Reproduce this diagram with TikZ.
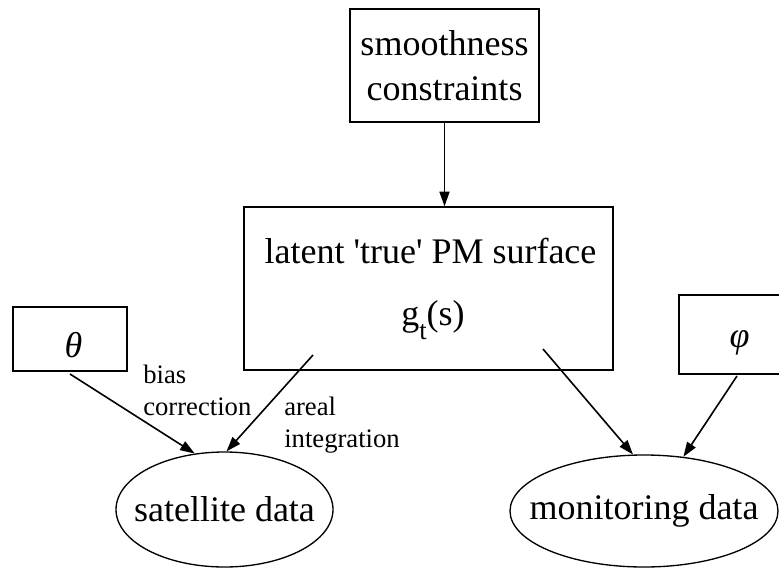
\documentclass[tikz,border=0pt]{standalone}
\usepackage{fontspec}
\setmainfont{Liberation Serif}
\usetikzlibrary{shapes.geometric,arrows.meta}
\begin{document}
\begin{tikzpicture}[x=0.75pt,y=-0.75pt,
  box/.style={draw,line width=1pt,inner sep=0pt,rectangle},
  oval/.style={draw,line width=1pt,ellipse,inner sep=0pt},
  big/.style={font=\fontsize{27}{34}\selectfont},
  small/.style={font=\fontsize{20}{24}\selectfont},
  arr/.style={line width=1.2pt,-{Triangle[length=11pt,width=7.5pt]}}]
\useasboundingbox (0,0) rectangle (779,568);
\clip (0,0) rectangle (779,568);
% boxes
\node[box,big,align=center,minimum width=141.75pt,minimum height=84.75pt] (smooth) at (444.5,65.5) {smoothness\\constraints};
\node[box,minimum width=276.75pt,minimum height=122.25pt] (latent) at (428.5,288.5) {};
\node[big,anchor=base,inner sep=0pt] (lt1) at (430.5,263) {latent \textquotesingle true\textquotesingle{} PM surface};
\node[big,anchor=base,inner sep=0pt] (lt2) at (433,325) {g\raisebox{-11pt}{\fontsize{20}{24}\selectfont t}(s)};
\node[box,minimum width=85.5pt,minimum height=48pt] (theta) at (70,339) {};
\node[big,inner sep=0pt] (thetatxt) at (73.5,345) {\itshape θ};
\node[box,minimum width=83.25pt,minimum height=59.25pt] (phi) at (734.5,334.5) {};
\node[big,inner sep=0pt] (phitxt) at (739.5,342.5) {\itshape φ};
% ellipses
\node[oval,big,minimum width=162.75pt,minimum height=86.25pt] (sat) at (224.5,509.5) {\makebox[0pt]{satellite data}};
\node[oval,big,minimum width=201pt,minimum height=84pt] (mon) at (644,511) {\makebox[0pt]{monitoring data}};
% labels
\node[small,align=left,anchor=north west,inner sep=0pt] (bias) at (143,364.6) {bias\\correction};
\node[small,align=left,anchor=north west,inner sep=0pt] (areal) at (284,396.6) {areal\\integration};
% connector ends
\coordinate (ts) at (70,374);
\coordinate (ls) at (313,355);
\coordinate (rs) at (543,349);
\coordinate (ps) at (737,376);
% connectors
\draw[arr] (smooth.south) -- (smooth.south |- latent.north);
\draw[arr] (ts) -- (sat.118.7);
\draw[arr] (ls) -- (sat.88.5);
\draw[arr] (rs) -- (mon.101.9);
\draw[arr] (ps) -- (mon.54.2);
\end{tikzpicture}
\end{document}
